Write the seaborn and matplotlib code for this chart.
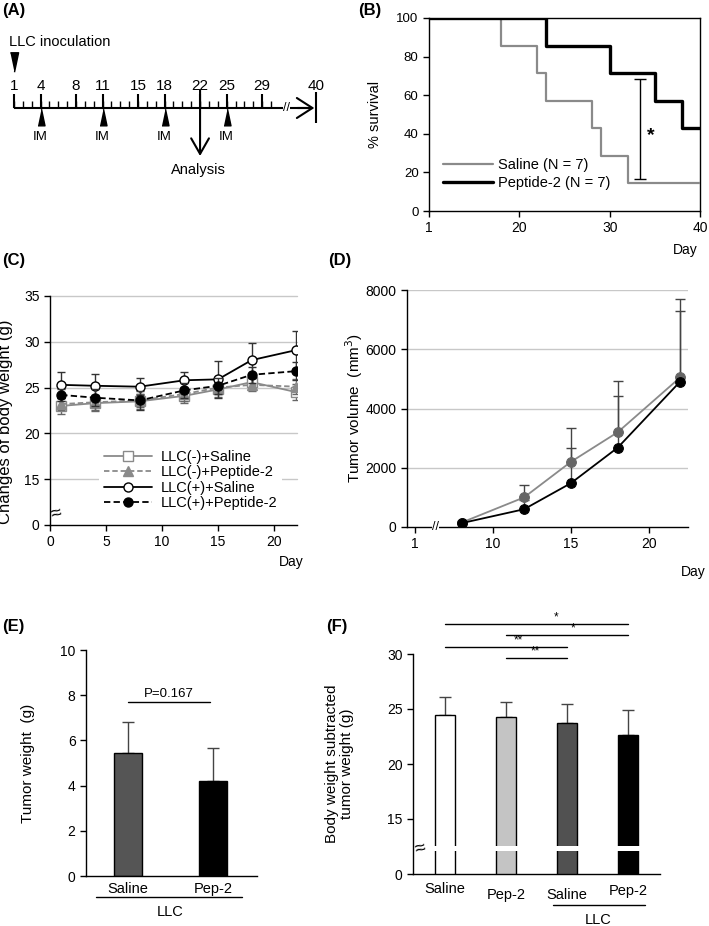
import numpy as np
import matplotlib
matplotlib.use("Agg")
import matplotlib.pyplot as plt
import seaborn as sns
import pandas as pd

# ---------------- data ----------------
# (A) treatment schedule
schedule_days = [1, 4, 8, 11, 15, 18, 22, 25, 29]
im_days = [4, 11, 18, 25]
analysis_day = 22
end_day = 40

# (B) survival (%)
saline_surv_day = [1, 18, 22, 23, 28, 29, 32, 40]
saline_surv_pct = [100, 85.7, 71.4, 57.1, 42.9, 28.6, 14.3, 14.3]
pep_surv_day = [1, 23, 30, 35, 38, 40]
pep_surv_pct = [100, 85.7, 71.4, 57.1, 42.9, 42.9]

# (C) body weight (g), mean and SD
body_days = [1, 4, 8, 12, 15, 18, 22]
neg_sal_mean = [23.0, 23.3, 23.5, 24.1, 24.8, 25.6, 24.5]
neg_sal_sd = [0.9, 0.9, 0.8, 0.8, 0.8, 0.9, 0.9]
neg_pep_mean = [23.2, 23.4, 23.6, 24.3, 25.0, 25.3, 25.1]
neg_pep_sd = [0.7, 0.8, 0.7, 0.8, 0.7, 0.7, 0.8]
pos_sal_mean = [25.3, 25.2, 25.1, 25.8, 25.9, 28.0, 29.1]
pos_sal_sd = [1.4, 1.3, 0.9, 0.9, 2.0, 1.9, 2.1]
pos_pep_mean = [24.2, 23.9, 23.6, 24.7, 25.2, 26.4, 26.8]
pos_pep_sd = [0.7, 0.9, 1.0, 0.8, 0.9, 0.9, 1.0]

# (D) tumor volume (mm3)
vol_days = [8, 12, 15, 18, 22]
vol_sal = [150, 1000, 2200, 3200, 5050]
vol_sal_sd = [60, 420, 1130, 1720, 2640]
vol_pep = [130, 600, 1480, 2680, 4910]
vol_pep_sd = [50, 300, 1200, 1750, 2390]

# (E) tumor weight (g)
tw_groups = ["Saline", "Pep-2"]
tw_mean = [5.45, 4.22]
tw_sd = [1.35, 1.43]

# (F) body weight minus tumor weight (g)
bw_groups = ["Saline", "Pep-2", "LLC Saline", "LLC Pep-2"]
bw_labels = ["Saline", "Pep-2", "Saline", "Pep-2"]
bw_mean = [24.45, 24.27, 23.7, 22.6]
bw_sd = [1.6, 1.35, 1.8, 2.3]
bw_pairs = [(0, 3), (1, 3), (0, 2), (1, 2)]
bw_stars = ["*", "*", "**", "**"]

# ---------------- style ----------------
sns.set_theme(style="white")
plt.rcParams.update({
    "font.family": ["Liberation Sans", "DejaVu Sans"],
    "axes.edgecolor": "black",
    "axes.linewidth": 1.0,
    "xtick.bottom": True,
    "ytick.left": True,
    "xtick.color": "black",
    "ytick.color": "black",
    "xtick.major.size": 4,
    "ytick.major.size": 4,
    "xtick.major.width": 1,
    "ytick.major.width": 1,
    "xtick.labelsize": 10,
    "ytick.labelsize": 10,
    "text.color": "black",
    "axes.labelcolor": "black",
})

W, H = 709, 926
fig = plt.figure(figsize=(W / 100, H / 100), dpi=100)


def px_axes(x0, y0, x1, y1):
    return fig.add_axes([x0 / W, 1 - y1 / H, (x1 - x0) / W, (y1 - y0) / H])


def plabel(x, y, s):
    fig.text(x / W, 1 - y / H, s, fontsize=12, fontweight="bold", va="center", ha="left")


# ---------------- (A) schedule ----------------
ax_a = px_axes(0, 0, 350, 230)
ax_a.set_xlim(1 - 14 / 8.86, 1 + 336 / 8.86)
ax_a.set_ylim(230, 0)
ax_a.axis("off")


def tpos(d):
    # days after 30 are squeezed behind the axis break
    return d if d <= 30 else 30 + (d - 30) * 0.51


line_y = 108
ax_a.plot([1, 34.3], [line_y, line_y], color="black", lw=1.5, solid_capstyle="butt")
ax_a.annotate("", xy=(34.9, line_y), xytext=(33.0, line_y),
              arrowprops=dict(arrowstyle="->,head_length=0.7,head_width=0.45",
                              lw=1.5, color="black", mutation_scale=16, shrinkA=0, shrinkB=0))
ax_a.vlines(np.arange(1, 31), line_y - 7, line_y, color="black", lw=1)
ax_a.vlines(schedule_days, line_y - 14, line_y, color="black", lw=1.5)
for d in schedule_days:
    ax_a.text(d, 86, str(d), ha="center", va="center", fontsize=11)
ax_a.text(31.7, line_y, "//", ha="center", va="center", fontsize=9,
          bbox=dict(facecolor="white", edgecolor="none", pad=0))
ax_a.vlines(tpos(end_day), 92, 123, color="black", lw=1.5)
ax_a.text(tpos(end_day), 86, str(end_day), ha="center", va="center", fontsize=11)
ax_a.text(0.45, 42, "LLC inoculation", ha="left", va="center", fontsize=10.5)
ax_a.plot([schedule_days[0]], [62], marker=[(-0.42, 1), (0.42, 1), (0, -1)],
          ms=14, color="black", ls="none")
ax_a.plot(im_days, [117] * len(im_days), marker=[(-0.42, -1), (0.42, -1), (0, 1)],
          ms=12, color="black", ls="none")
for d in im_days:
    ax_a.text(d, 137, "IM", ha="center", va="center", fontsize=9.5)
ax_a.annotate("", xy=(analysis_day, 156), xytext=(analysis_day, 90),
              arrowprops=dict(arrowstyle="->,head_length=0.7,head_width=0.4",
                              lw=1.5, color="black", mutation_scale=16, shrinkA=0, shrinkB=0))
ax_a.text(analysis_day - 0.2, 170, "Analysis", ha="center", va="center", fontsize=10.5)

# ---------------- (B) survival ----------------
ax_b = px_axes(429, 18, 700, 211)
surv = pd.concat([
    pd.DataFrame({"day": saline_surv_day, "pct": saline_surv_pct, "grp": "Saline (N = 7)"}),
    pd.DataFrame({"day": pep_surv_day, "pct": pep_surv_pct, "grp": "Peptide-2 (N = 7)"}),
])
sns.lineplot(data=surv[surv.grp == "Saline (N = 7)"], x="day", y="pct", ax=ax_b,
             color="#8a8a8a", lw=1.6, drawstyle="steps-post", label="Saline (N = 7)", zorder=3)
sns.lineplot(data=surv[surv.grp == "Peptide-2 (N = 7)"], x="day", y="pct", ax=ax_b,
             color="black", lw=2.4, drawstyle="steps-post", label="Peptide-2 (N = 7)", zorder=4)
ax_b.set_xlim(10, 40)
ax_b.set_ylim(0, 100)
ax_b.set_xticks([10, 20, 30, 40])
ax_b.set_xticklabels(["1", "20", "30", "40"], fontsize=10)
ax_b.set_yticks(range(0, 101, 20))
ax_b.tick_params(axis="y", labelsize=9.5)
ax_b.set_xlabel("")
ax_b.set_ylabel("% survival", fontsize=10.5)
ax_b.yaxis.set_label_coords(-0.175, 0.5)
ax_b.text(0.945, -0.2, "Day", transform=ax_b.transAxes, ha="center", va="center", fontsize=10)
ax_b.errorbar([33.4], [42.5], yerr=[26], color="black", lw=1, capsize=4, capthick=1)
ax_b.text(34.6, 39, "*", ha="center", va="center", fontsize=14, fontweight="bold")
ax_b.legend(loc="lower left", bbox_to_anchor=(0.03, 0.08), frameon=False, fontsize=10.5,
            handlelength=3.4, handletextpad=0.35, borderaxespad=0, labelspacing=0.25)

# ---------------- (C) body weight ----------------
ax_c = px_axes(50, 296, 297, 525)
c_series = [
    ("LLC(-)+Saline", neg_sal_mean, neg_sal_sd, "#8a8a8a", "-", "s", "white"),
    ("LLC(-)+Peptide-2", neg_pep_mean, neg_pep_sd, "#8a8a8a", (0, (3, 1.6)), "^", "#8a8a8a"),
    ("LLC(+)+Saline", pos_sal_mean, pos_sal_sd, "black", "-", "o", "white"),
    ("LLC(+)+Peptide-2", pos_pep_mean, pos_pep_sd, "black", (0, (3.5, 1.8)), "o", "black"),
]
for i, (name, m, sd, col, ls, mk, fc) in enumerate(c_series):
    ax_c.errorbar(body_days, m, yerr=sd, fmt="none", ecolor="#333333" if col == "black" else "#666666",
                  elinewidth=1, capsize=3, capthick=1, zorder=2 + i)
    sns.lineplot(x=body_days, y=m, ax=ax_c, color=col, lw=1.3, linestyle=ls, marker=mk,
                 markersize=6.5, markerfacecolor=fc, markeredgecolor=col, markeredgewidth=1,
                 label=name, zorder=3 + i)
ax_c.set_xlim(0, 22.05)
ax_c.set_ylim(10, 35)
ax_c.set_yticks([10, 15, 20, 25, 30, 35])
ax_c.set_yticklabels(["0", "15", "20", "25", "30", "35"])
ax_c.set_xticks([0, 5, 10, 15, 20])
for v in [15, 20, 25, 30, 35]:
    ax_c.axhline(v, color="#c8c8c8", lw=1, zorder=0, clip_on=False)
sns.despine(ax=ax_c)
ax_c.set_xlabel("")
ax_c.set_ylabel("Changes of body weight (g)", fontsize=12)
ax_c.yaxis.set_label_coords(-0.148, 0.45)
ax_c.text(0.975, -0.16, "Day", transform=ax_c.transAxes, ha="center", va="center", fontsize=10)
ax_c.text(0.6, 11.2, "≈", ha="center", va="center", fontsize=14, rotation=15, clip_on=False)
leg = ax_c.legend(loc="lower left", bbox_to_anchor=(0.2, 0.045), frameon=True, fontsize=10.5,
                  handlelength=3.3, handletextpad=0.6, borderaxespad=0, labelspacing=0.1,
                  borderpad=0.3, facecolor="white", edgecolor="none", framealpha=1)

# ---------------- (D) tumor volume ----------------
ax_d = px_axes(407, 290, 688, 527)
for v in [2000, 4000, 6000, 8000]:
    ax_d.axhline(v, color="#c8c8c8", lw=1, zorder=0)
ax_d.errorbar(vol_days, vol_sal, yerr=[np.zeros(len(vol_sal)), vol_sal_sd], fmt="none",
              ecolor="#444444", elinewidth=1, capsize=3.5, capthick=1, zorder=2)
ax_d.errorbar(vol_days, vol_pep, yerr=[np.zeros(len(vol_pep)), vol_pep_sd], fmt="none",
              ecolor="#444444", elinewidth=1, capsize=3.5, capthick=1, zorder=2)
sns.lineplot(x=vol_days, y=vol_sal, ax=ax_d, color="#8a8a8a", lw=1.3, marker="o",
             markersize=7, markerfacecolor="#666666", markeredgecolor="#666666", zorder=3)
sns.lineplot(x=vol_days, y=vol_pep, ax=ax_d, color="black", lw=1.3, marker="o",
             markersize=7, markerfacecolor="black", markeredgecolor="black", zorder=4)
ax_d.set_xlim(4.5, 22.5)
ax_d.set_ylim(0, 8000)
ax_d.set_xticks([5, 10, 15, 20])
ax_d.set_xticklabels(["1", "10", "15", "20"])
ax_d.set_yticks([0, 2000, 4000, 6000, 8000])
sns.despine(ax=ax_d)
ax_d.set_xlabel("")
ax_d.set_ylabel("Tumor volume  (mm$^3$)", fontsize=11)
ax_d.yaxis.set_label_coords(-0.15, 0.5)
ax_d.text(1.018, -0.19, "Day", transform=ax_d.transAxes, ha="center", va="center", fontsize=10)
ax_d.text(6.3, 0, "//", ha="center", va="center", fontsize=9, clip_on=False,
          bbox=dict(facecolor="white", edgecolor="none", pad=0))

# ---------------- (E) tumor weight ----------------
ax_e = px_axes(86, 650, 257, 876)
e_df = pd.DataFrame({"group": tw_groups, "weight": tw_mean})
sns.barplot(data=e_df, x="group", y="weight", hue="group", order=tw_groups,
            palette={"Saline": "#555555", "Pep-2": "black"}, edgecolor="black",
            linewidth=1, width=0.33, errorbar=None, legend=False, ax=ax_e, zorder=2)
ax_e.errorbar(range(len(tw_mean)), tw_mean, yerr=[np.zeros(len(tw_sd)), tw_sd], fmt="none",
              ecolor="#444444", elinewidth=1, capsize=4, capthick=1, zorder=1)
ax_e.set_xlim(-0.494, 1.518)
ax_e.set_ylim(0, 10)
ax_e.set_yticks(range(0, 11, 2))
ax_e.tick_params(axis="x", length=0, labelsize=10.5, pad=4)
sns.despine(ax=ax_e)
ax_e.set_xlabel("")
ax_e.set_ylabel("Tumor weight  (g)", fontsize=11)
ax_e.yaxis.set_label_coords(-0.3, 0.5)
ax_e.plot([0, 0.97], [7.7, 7.7], color="black", lw=1)
ax_e.text(0.48, 7.8, "P=0.167", ha="center", va="bottom", fontsize=9.5)
ax_e.plot([-0.38, 1.34], [-0.093, -0.093], color="black", lw=1,
          transform=ax_e.get_xaxis_transform(), clip_on=False)
ax_e.text(0.5, -0.16, "LLC", ha="center", va="center", fontsize=10.5,
          transform=ax_e.get_xaxis_transform())

# ---------------- (F) body weight minus tumor ----------------
ax_f = px_axes(413, 654, 660, 874)
f_df = pd.DataFrame({"group": bw_groups, "weight": bw_mean})
sns.barplot(data=f_df, x="group", y="weight", hue="group", order=bw_groups,
            palette=dict(zip(bw_groups, ["white", "#c4c4c4", "#515151", "black"])),
            edgecolor="black", linewidth=1, width=0.33, errorbar=None, legend=False,
            ax=ax_f, zorder=2)
ax_f.errorbar(range(len(bw_mean)), bw_mean, yerr=[np.zeros(len(bw_sd)), bw_sd], fmt="none",
              ecolor="#444444", elinewidth=1, capsize=4, capthick=1, zorder=1)
ax_f.set_xlim(-0.518, 3.518)
ax_f.set_ylim(10, 30)
ax_f.set_yticks([10, 15, 20, 25, 30])
ax_f.set_yticklabels(["0", "15", "20", "25", "30"])
ax_f.set_xticks(range(len(bw_groups)))
ax_f.set_xticklabels([])
ax_f.tick_params(axis="x", length=0)
sns.despine(ax=ax_f)
ax_f.set_xlabel("")
ax_f.set_ylabel("Body weight subtracted\ntumor weight (g)", fontsize=11, linespacing=1.05)
ax_f.yaxis.set_label_coords(-0.24, 0.5)
ax_f.fill_between([-0.3, 3.3], 12.1, 12.55, color="white", zorder=5, lw=0)
ax_f.text(-0.4, 12.3, "≈", ha="center", va="center", fontsize=14, rotation=15, clip_on=False, zorder=6)
xt = ax_f.get_xaxis_transform()
for i, (lab, yy) in enumerate(zip(bw_labels, [-0.068, -0.095, -0.095, -0.077])):
    ax_f.text(i, yy, lab, ha="center", va="center", fontsize=10.5, transform=xt)
ax_f.plot([1.77, 3.27], [-0.141, -0.141], color="black", lw=1, transform=xt, clip_on=False)
ax_f.text(2.5, -0.209, "LLC", ha="center", va="center", fontsize=10.5, transform=xt)
sig_y = [32.7, 31.7, 30.6, 29.6]
star_x = [1.82, 2.10, 1.2, 1.48]
for (a, b), yv, s, sx in zip(bw_pairs, sig_y, bw_stars, star_x):
    ax_f.plot([a, b], [yv, yv], color="black", lw=1, clip_on=False)
    ax_f.text(sx, yv + 0.05, s, ha="center", va="bottom", fontsize=8.5, clip_on=False)

# ---------------- panel letters ----------------
plabel(2, 11, "(A)")
plabel(358, 11, "(B)")
plabel(2, 260, "(C)")
plabel(328, 260, "(D)")
plabel(2, 627, "(E)")
plabel(326, 627, "(F)")

fig.savefig("out.png", dpi=100)
